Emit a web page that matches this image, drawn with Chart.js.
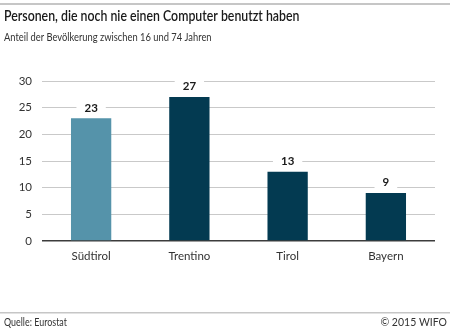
<!DOCTYPE html>
<html>
<head>
<meta charset="utf-8">
<script src="https://cdn.jsdelivr.net/npm/chart.js@4"></script>
<style>
  html, body { margin: 0; padding: 0; background: #fff; }
  #wrap { position: relative; width: 450px; height: 333px; }
</style>
</head>
<body>
<div id="wrap"><canvas id="c" width="450" height="333"></canvas></div>
<script>
// Anteil der Personen (16–74 Jahre), die noch nie einen Computer benutzt haben, in %
const regions = ['Südtirol', 'Trentino', 'Tirol', 'Bayern'];
const shares = [23, 27, 13, 9];
const barColors = ['#5593aa', '#033a51', '#033a51', '#033a51'];
const yTicks = [0, 5, 10, 15, 20, 25, 30];

const titleText = 'Personen, die noch nie einen Computer benutzt haben';
const subtitleText = 'Anteil der Bevölkerung zwischen 16 und 74 Jahren';
const sourceText = 'Quelle: Eurostat';
const copyrightText = '© 2015 WIFO';

const FONT = 'Lato, "Open Sans", sans-serif';

// Text leicht schmal laufend zeichnen (horizontal gestaucht)
function condensedText(ctx, text, x, y, sx) {
  ctx.save();
  ctx.translate(x, y);
  ctx.scale(sx, 1);
  ctx.fillText(text, 0, 0);
  ctx.restore();
}

// Rahmen, Titel, Fußzeile und Wertbeschriftungen
const decorations = {
  id: 'decorations',
  beforeDraw(chart) {
    const ctx = chart.ctx;
    const w = chart.width;
    ctx.save();
    ctx.fillStyle = '#fff';
    ctx.fillRect(0, 0, w, chart.height);
    // obere und untere Trennlinie
    ctx.fillStyle = '#c6c6c6';
    ctx.fillRect(0, 3, w, 2);
    ctx.fillRect(0, 312, w, 1.5);
    // Titel
    ctx.fillStyle = '#1a1a1a';
    ctx.textBaseline = 'alphabetic';
    ctx.textAlign = 'left';
    ctx.font = '600 14.5px ' + FONT;
    condensedText(ctx, titleText, 4, 21, 0.85);
    ctx.font = '10.5px ' + FONT;
    ctx.fillStyle = '#333';
    condensedText(ctx, subtitleText, 4, 41, 0.89);
    // Fußzeile
    ctx.font = '10.5px ' + FONT;
    condensedText(ctx, sourceText, 4, 326, 0.85);
    ctx.textAlign = 'right';
    condensedText(ctx, copyrightText, w - 3, 326, 1.0);
    ctx.restore();
  },
  afterDatasetsDraw(chart) {
    const ctx = chart.ctx;
    const meta = chart.getDatasetMeta(0);
    ctx.save();
    ctx.font = 'bold 11.5px ' + FONT;
    ctx.textAlign = 'center';
    ctx.textBaseline = 'middle';
    meta.data.forEach((bar, i) => {
      const label = String(shares[i]);
      const y = bar.y - 11;
      const tw = ctx.measureText(label).width;
      ctx.fillStyle = '#fff';
      ctx.fillRect(bar.x - tw / 2 - 8, y - 6, tw + 16, 12);
      ctx.fillStyle = '#1a1a1a';
      ctx.fillText(label, bar.x, y + 0.5);
    });
    ctx.restore();
  }
};

new Chart(document.getElementById('c'), {
  type: 'bar',
  data: {
    labels: regions,
    datasets: [{
      data: shares,
      backgroundColor: barColors,
      borderWidth: 0,
      barPercentage: 0.41,
      categoryPercentage: 1.0
    }]
  },
  options: {
    responsive: false,
    animation: false,
    events: [],
    layout: { padding: { left: 0, right: 15, top: 81, bottom: 62 } },
    plugins: { legend: { display: false }, tooltip: { enabled: false } },
    scales: {
      x: {
        grid: { display: false, drawTicks: false },
        border: { display: false },
        ticks: { color: '#333', font: { family: FONT, size: 11.5 }, padding: 8 },
        afterFit(scale) { scale.height = 30; }
      },
      y: {
        min: 0,
        max: 30,
        afterBuildTicks(scale) { scale.ticks = yTicks.map(v => ({ value: v })); },
        grid: {
          drawTicks: false,
          color: (c) => c.tick && c.tick.value === 0 ? '#3c3c3c' : '#c9c9c9',
          lineWidth: (c) => c.tick && c.tick.value === 0 ? 1.5 : 1
        },
        border: { display: false },
        ticks: { color: '#333', font: { family: FONT, size: 11.5 }, padding: 10 },
        afterFit(scale) { scale.width = 42; }
      }
    }
  },
  plugins: [decorations]
});
</script>
</body>
</html>
